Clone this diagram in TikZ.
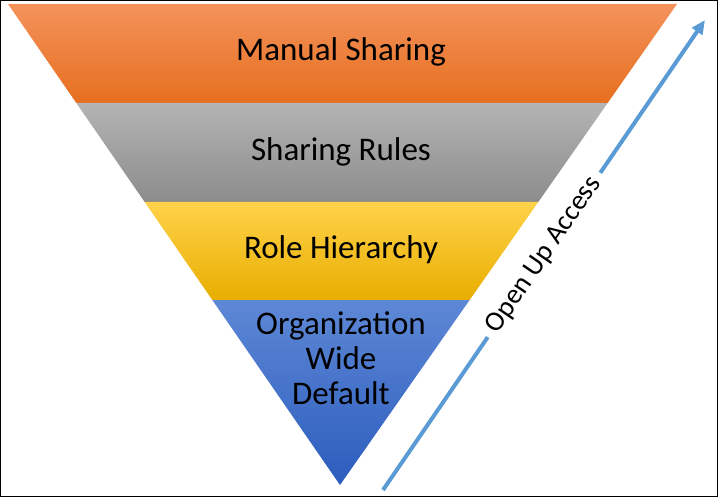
\documentclass[tikz,border=0pt]{standalone}
\usepackage{fontspec}
\setmainfont{Carlito}
\usetikzlibrary{calc,arrows.meta}
\definecolor{orangetop}{HTML}{F4925C}
\definecolor{orangebot}{HTML}{E66F1E}
\definecolor{graytop}{HTML}{B4B4B4}
\definecolor{graybot}{HTML}{8C8C8C}
\definecolor{yellowtop}{HTML}{FFD24A}
\definecolor{yellowbot}{HTML}{E8AE00}
\definecolor{bluetop}{HTML}{5E88D6}
\definecolor{bluebot}{HTML}{2C5DBD}
\definecolor{arrowblue}{HTML}{5B9BD5}
\tikzset{label/.style={font=\fontsize{33}{35}\selectfont, align=center}}
\begin{document}
\begin{tikzpicture}[x=1pt,y=-1pt]
\draw[fill=white, line width=1pt] (0.5,0.5) rectangle (717.5,496.5);
\coordinate (tl) at (8,4);
\coordinate (tr) at (677,4);
\coordinate (apex) at (340,485);
\coordinate (l1) at ($(tl)!0.2058!(apex)$);
\coordinate (r1) at ($(tr)!0.2058!(apex)$);
\coordinate (l2) at ($(tl)!0.4116!(apex)$);
\coordinate (r2) at ($(tr)!0.4116!(apex)$);
\coordinate (l3) at ($(tl)!0.6154!(apex)$);
\coordinate (r3) at ($(tr)!0.6154!(apex)$);
\shade[top color=orangetop, bottom color=orangebot] (tl) -- (tr) -- (r1) -- (l1) -- cycle;
\shade[top color=graytop, bottom color=graybot] (l1) -- (r1) -- (r2) -- (l2) -- cycle;
\shade[top color=yellowtop, bottom color=yellowbot] (l2) -- (r2) -- (r3) -- (l3) -- cycle;
\shade[top color=bluetop, bottom color=bluebot] (l3) -- (r3) -- (apex) -- cycle;
\node[label](manual) at (341,52){Manual Sharing};
\node[label](rules) at (341,152){Sharing Rules};
\node[label](role) at (341,250){Role Hierarchy};
\node[label](owd) at (341,358){Organization\\Wide\\Default};
\coordinate (from) at (383,490);
\coordinate (to) at (705,20);
\draw[arrowblue, line width=4pt, -{Triangle[length=14pt,width=12pt]}] (from) -- (to);
\node[label, font=\fontsize{28}{34}\selectfont, fill=white, rotate=55.6, inner xsep=8pt, inner ysep=2pt](access) at ($(from)!0.5!(to)$){Open Up Access};
\end{tikzpicture}
\end{document}
